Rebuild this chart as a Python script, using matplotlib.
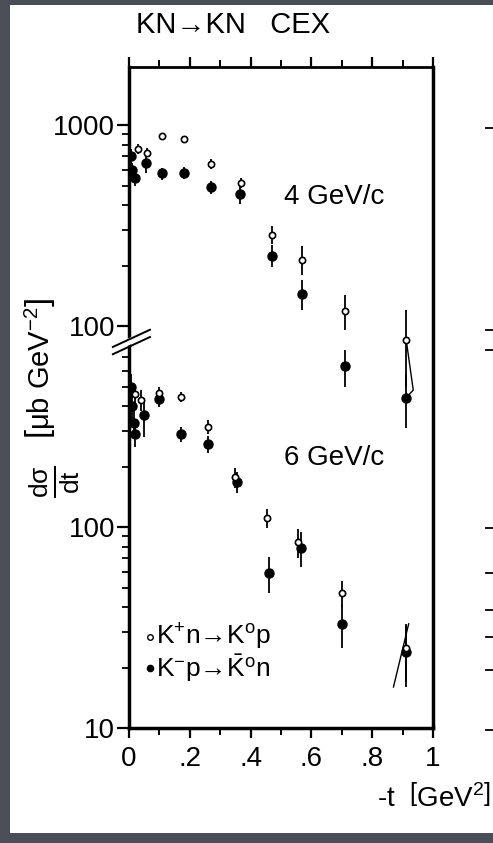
import matplotlib
matplotlib.use('Agg')
import matplotlib.pyplot as plt
from matplotlib.patches import Rectangle, Polygon
from matplotlib.lines import Line2D
from matplotlib.ticker import FixedLocator, FixedFormatter, NullFormatter

plt.rcParams['font.family'] = ['Liberation Sans', 'DejaVu Sans']
plt.rcParams['mathtext.fontset'] = 'custom'
plt.rcParams['mathtext.rm'] = 'Liberation Sans'
plt.rcParams['mathtext.it'] = 'Liberation Sans'
plt.rcParams['mathtext.bf'] = 'Liberation Sans:bold'

# 4 GeV/c, dsigma/dt in ub/GeV^2 (plotted one decade up on the shared axis)
t4_open = [0.03, 0.06, 0.11, 0.18, 0.27, 0.37, 0.47, 0.57, 0.71, 0.91]
s4_open = [760, 730, 880, 850, 640, 515, 285, 214, 119, 85]
e4_open = [45, 40, 35, 35, 35, 30, 30, 35, 23, 35]

t4_full = [0.008, 0.01, 0.02, 0.055, 0.11, 0.18, 0.27, 0.365, 0.47, 0.57, 0.71, 0.91]
s4_full = [700, 600, 545, 650, 575, 580, 490, 455, 224, 145, 63, 44]
e4_full = [60, 50, 45, 70, 40, 40, 35, 50, 28, 25, 13, 13]

# 6 GeV/c
t6_open = [0.02, 0.04, 0.10, 0.17, 0.26, 0.35, 0.455, 0.555, 0.70, 0.91]
s6_open = [460, 430, 465, 445, 315, 177, 111, 84, 47, 25]
e6_open = [50, 50, 35, 25, 25, 20, 12, 14, 7, 8]

t6_full = [0.006, 0.01, 0.015, 0.02, 0.05, 0.10, 0.17, 0.26, 0.355, 0.46, 0.565, 0.70, 0.91]
s6_full = [500, 400, 330, 290, 360, 435, 290, 258, 167, 59, 79, 33, 24]
e6_full = [80, 60, 50, 40, 80, 40, 25, 25, 20, 12, 16, 8, 8]

# thin curves near the last t bin
t4_curve = [0.912, 0.935, 0.912]
s4_curve = [85, 48, 44]
t6_curve = [0.87, 0.92]
s6_curve = [16, 33]

SHIFT = 10  # 4 GeV/c data sit one decade above the 6 GeV/c data

x_ticks = [0, 0.2, 0.4, 0.6, 0.8, 1.0]
x_labels = ['0', '.2', '.4', '.6', '.8', '1']
y_ticks = [10, 100, 1000, 10000]
y_labels = ['10', '100', '100', '1000']
y_minor = [20, 30, 40, 50, 60, 70, 80, 90,
           200, 300, 400, 500, 600, 700,
           2000, 3000, 4000, 5000, 6000, 7000, 8000, 9000]

grey = '#4a4e56'
fig = plt.figure(figsize=(4.93, 8.43), dpi=100, facecolor=grey)
fig.patches.append(Rectangle((10 / 493, 10 / 843), 483 / 493, 828 / 843,
                             transform=fig.transFigure, facecolor='white',
                             edgecolor='none', zorder=-10))

ax = fig.add_axes([129 / 493, 115 / 843, 304 / 493, 661 / 843])
ax.set_yscale('log')
ax.set_xlim(0, 1.0)
ax.set_ylim(10, 10 ** 4.289)

for side in ['left', 'bottom', 'right']:
    ax.spines[side].set_linewidth(2.5)
ax.spines['top'].set_linewidth(2.0)

ax.xaxis.set_major_locator(FixedLocator(x_ticks))
ax.xaxis.set_major_formatter(FixedFormatter(x_labels))
ax.xaxis.set_minor_locator(FixedLocator([0.1, 0.3, 0.5, 0.7, 0.9]))
ax.yaxis.set_major_locator(FixedLocator(y_ticks))
ax.yaxis.set_major_formatter(FixedFormatter(y_labels))
ax.yaxis.set_minor_locator(FixedLocator(y_minor))
ax.yaxis.set_minor_formatter(NullFormatter())

ax.tick_params(axis='x', which='major', direction='out', length=7, width=1.6,
               labelsize=20, pad=6, top=True)
ax.tick_params(axis='x', which='minor', direction='out', length=5, width=1.4, top=True)
ax.tick_params(axis='y', which='major', direction='out', length=9, width=1.6,
               labelsize=20, pad=1)
ax.tick_params(axis='y', which='minor', direction='out', length=5, width=1.3)

kw = dict(fmt='none', ecolor='black', elinewidth=1.3, capsize=0, zorder=2)
ax.errorbar(t4_open, [v * SHIFT for v in s4_open], yerr=[e * SHIFT for e in e4_open], **kw)
ax.errorbar(t4_full, [v * SHIFT for v in s4_full], yerr=[e * SHIFT for e in e4_full], **kw)
ax.errorbar(t6_open, s6_open, yerr=e6_open, **kw)
ax.errorbar(t6_full, s6_full, yerr=e6_full, **kw)

ax.plot(t4_curve, [v * SHIFT for v in s4_curve], color='black', lw=1.0, zorder=2)
ax.plot(t6_curve, s6_curve, color='black', lw=1.0, zorder=2)

ax.plot(t4_full, [v * SHIFT for v in s4_full], 'o', ms=6.5, color='black', zorder=3)
ax.plot(t6_full, s6_full, 'o', ms=6.5, color='black', zorder=3)
ax.plot(t4_open, [v * SHIFT for v in s4_open], 'o', ms=4.5, mfc='white',
        mec='black', mew=1.2, zorder=4)
ax.plot(t6_open, s6_open, 'o', ms=4.5, mfc='white', mec='black', mew=1.2, zorder=4)

# axis break on the left spine
yb, gap = 0.584, 0.0055
ax.add_patch(Polygon([(-0.03, yb - gap - 0.006), (0.03, yb - gap + 0.007),
                      (0.03, yb + gap + 0.007), (-0.03, yb + gap - 0.006)],
                     closed=True, transform=ax.transAxes, facecolor='white',
                     edgecolor='none', clip_on=False, zorder=5))
for dy in (-gap, gap):
    ax.add_line(Line2D([-0.053, 0.069], [yb + dy - 0.013, yb + dy + 0.013],
                       transform=ax.transAxes, color='black', lw=1.4,
                       clip_on=False, zorder=6))

ax.text(0.51, 0.803, '4 GeV/c', transform=ax.transAxes, fontsize=20,
        ha='left', va='center')
ax.text(0.51, 0.408, '6 GeV/c', transform=ax.transAxes, fontsize=20,
        ha='left', va='center')

# hand-made legend
ax.plot([0.068], [0.138], 'o', ms=4, mfc='white', mec='black', mew=1.0,
        transform=ax.transAxes, clip_on=False)
ax.plot([0.068], [0.091], 'o', ms=4.5, color='black',
        transform=ax.transAxes, clip_on=False)
ax.text(0.09, 0.138, 'K$^{+}$n\u2192K$^{o}$p',
        transform=ax.transAxes, fontsize=19, ha='left', va='center')
ax.text(0.09, 0.091, 'K$^{-}$p\u2192$\\mathrm{\\bar{K}}^{o}$n',
        transform=ax.transAxes, fontsize=19, ha='left', va='center')

fig.text(233 / 493, 1 - 25 / 843, 'KN\u2192KN   CEX', fontsize=21,
         ha='center', va='center')

fig.text(40 / 493, 1 - 368 / 843, r'$\left[\mu\mathrm{b\ GeV^{-2}}\right]$',
         rotation=90, fontsize=21, ha='center', va='center')
fig.text(55 / 493, 1 - 482 / 843, r'$\frac{\mathrm{d}\sigma}{\mathrm{dt}}$',
         rotation=90, fontsize=27, ha='center', va='center')
fig.text(491 / 493, 1 - 798 / 843, '-t  $\\left[\\mathrm{GeV^{2}}\\right]$',
         fontsize=20, ha='right', va='center')

# tick marks of the neighbouring panel at the right edge
for yp in [128, 330, 350, 528, 573, 610, 637, 670, 730]:
    fig.add_artist(Line2D([486 / 493, 493 / 493], [1 - yp / 843, 1 - yp / 843],
                          transform=fig.transFigure, color='black', lw=1.3))

fig.savefig('out.png', dpi=100, facecolor=grey)
